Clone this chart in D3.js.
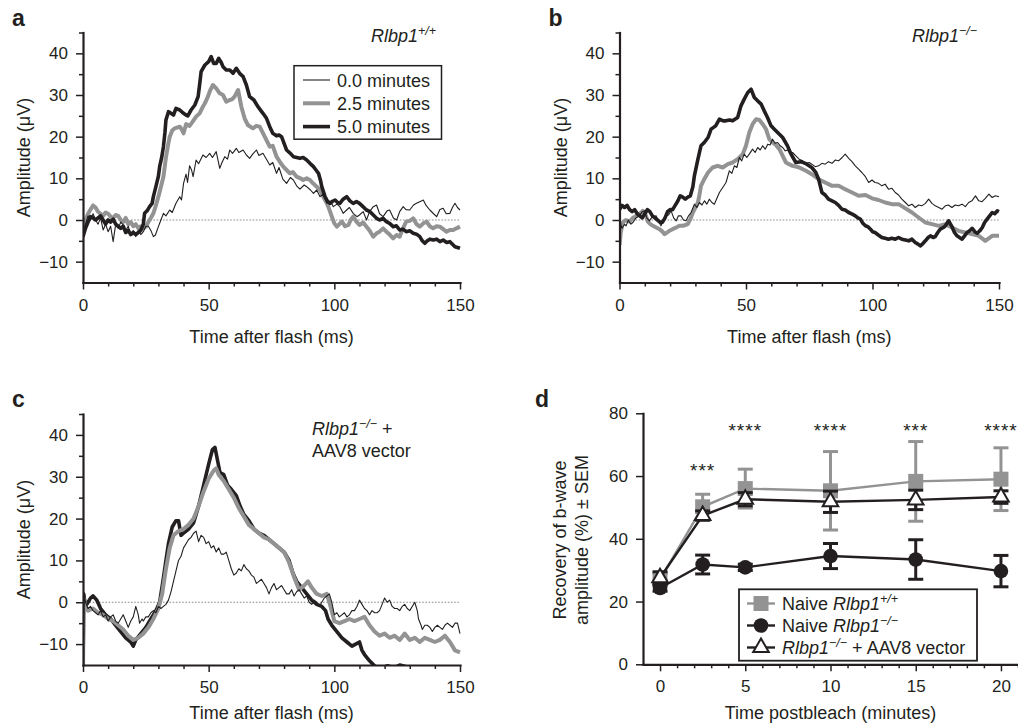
<!DOCTYPE html>
<html>
<head>
<meta charset="utf-8">
<script src="https://cdn.jsdelivr.net/npm/d3@7"></script>
<style>
  body { margin: 0; background: #fff; }
  svg text { font-family: "Liberation Sans", Arial, Helvetica, sans-serif; fill: #231f20; }
</style>
</head>
<body>
<svg id="fig" width="1018" height="727"></svg>
<script>
// ---- ERG traces, [time (ms), amplitude (uV)] ----
// panel a: Rlbp1+/+
const aThin = [[0,-3],[1,-1],[2,1],[3,0],[4,1.5],[5,0],[6,-1],[7,0.5],[8,-2.4],[9,-1],[10,-2.8],[11,-1.5],[12,-5.2],[13,-1],[14,-2],[15,-0.5],[16,-1.2],[17,-2.5],[18,-1.5],[19,-3.5],[20,-2.5],[21,-4],[22,-2.5],[23,-3.5],[24,-2.8],[25,-1.5],[26,-1.5],[27,-2.5],[28,-4],[28.8,-3.6],[30,-1.6],[31,0],[32,1.6],[33,1],[34.5,2.4],[35.5,1.8],[37,4],[38.5,5.6],[39.2,4.8],[40,8.8],[41,11],[41.6,9],[42.4,13],[43.2,12],[43.8,10.4],[45,14.4],[46,13.5],[47.7,15.6],[49,15],[50.4,16],[51.5,15],[53,16.4],[54.4,12.4],[55.3,13.8],[56.4,15.2],[57.5,14.6],[58.4,16.8],[59.5,16],[61,17.2],[62,16.2],[63.7,16.8],[65,15.6],[66.3,14.8],[67.5,15.8],[69,16.8],[70,15.5],[71.6,16],[73,14.6],[74.3,13.2],[75.5,13.8],[77,11.2],[78,12.6],[79.5,9.8],[81,8.8],[82.5,10.2],[83.7,9.6],[85,8.2],[86.3,7.4],[88,8.4],[89,8],[90.5,7.2],[91.7,6.4],[93,7.2],[94.3,5.6],[95.5,6.2],[97,4],[98.5,4.5],[99.6,3.2],[101,3.8],[102.2,3.2],[103.5,1.6],[104.9,2.4],[106,3],[107.5,1.6],[109,0.8],[110,1.2],[111.5,2],[112.8,0],[114,2],[115.5,3.2],[116.8,3.6],[118,1.5],[119.4,0.8],[121,2.2],[122,2.4],[123.5,0.5],[124.8,0],[126,2],[127.4,3.2],[128.5,2.5],[130,2.4],[131.5,3.6],[132.7,4],[134,4.4],[135.4,4.8],[136.5,3.5],[138,2.4],[139.5,1.5],[140.7,0.8],[142,2.5],[143.3,2.8],[144.5,1.5],[146,1.6],[147,3],[148,4],[149,3],[150,2.4]];
const aGray = [[0,-3],[1,0],[2,1.5],[3,2.5],[4,3.5],[5,3],[6,2],[7,1.5],[8,1],[9,1.8],[10,1.5],[11,0.8],[12,0.5],[13,1.2],[14,1],[15,0],[16,-0.5],[17,0.5],[18,-1],[19,-0.5],[20,-1.5],[21,-1],[22,-2],[23,-1.5],[24,-2],[25,-1.6],[26,-0.5],[27,0.5],[28,1.6],[29,3.5],[30,5.6],[31,8],[32,10.4],[33,15],[34,18.5],[34.5,20],[35.5,21.5],[36.5,22],[38.5,22.4],[39.5,21.5],[40,20.8],[41,23],[42.4,22.6],[43.5,23.5],[45,24.8],[46.4,25.6],[47.7,27.2],[48.5,28],[49.7,29.6],[50.5,31],[51.7,32.4],[53,31.6],[54.4,30.4],[55.7,30],[57,28.4],[58.4,28.8],[59.4,29],[60.3,29.6],[61.7,31.2],[63,27.2],[64.3,24.4],[65.6,22.8],[67.6,22],[69,22.6],[70.3,22.4],[72.3,20],[74.3,17.6],[75.5,17.8],[77,15.2],[78.5,13.8],[79.7,12.8],[81,12],[82.3,11.2],[83.5,11.5],[85,10.4],[86.5,10],[87.6,9.6],[89,10],[90.3,9.6],[91.5,8.8],[93,8],[94.3,7.2],[95.6,5.6],[96.6,4.5],[97.6,3.2],[99,0.8],[100,-0.8],[101,-1.6],[102,-1],[103,-0.4],[104.3,-1.5],[105.6,-1.2],[106.5,0],[107.5,0.8],[108.8,-0.4],[110,-1.2],[111.5,-0.6],[112.8,-1.6],[114,-2.5],[115.5,-4],[116.8,-3.2],[118,-2.8],[119.4,-2],[120.7,-2.8],[122,-3.5],[123.4,-4.4],[124.8,-3.6],[126,-4],[127.3,-2],[128.6,-0.4],[130,-0.2],[131.4,0.4],[132.7,-1],[134,-1.6],[135.4,-0.8],[136.7,-0.4],[138,-1.5],[139.3,-2],[140.7,-1.5],[142,-1.6],[143.3,-2.2],[144.6,-2.8],[146,-2.4],[147.3,-2.4],[148.6,-2],[150,-1.6]];
const aBlack = [[0,-4],[1,-2],[2,-0.5],[3,0.8],[4,0.5],[5,0],[6,0.5],[7,1],[8,0],[9,-1],[10,0],[11,-0.5],[12,0.2],[13,-1],[14,-1.5],[15,-2],[16,-1.5],[17,-3],[18,-2.5],[19,-3.5],[20,-3],[21,-3.5],[22,-3],[23,-2.5],[24,-1],[24.5,1.6],[25.5,2.2],[26.5,3.2],[27.5,4],[28,5.6],[29,8],[30,10.5],[30.5,12.8],[31.3,15],[32,17.6],[32.6,21],[33,24],[34,26],[35,25.6],[36,25.2],[37,26.8],[38.5,26.4],[40,25.6],[41,25.2],[41.7,25],[43,26.4],[44.5,27.6],[45.8,29.6],[46.5,33],[47,35.6],[48.5,37.2],[50,38],[51,39.2],[52,37.6],[53,37.6],[54,38.8],[55,37.8],[55.7,36.8],[57,36],[58.4,36],[59.7,35.2],[61,36.4],[62.3,35.2],[63.7,34.4],[65,32.4],[66.3,29.6],[68,28.8],[69.6,27.2],[71.6,25.6],[73,24.4],[74.3,22.4],[75.5,20.8],[77,20.2],[78,20.4],[79,20],[80,18.4],[81,16.8],[82.5,16],[83.7,15.2],[85,15],[86.3,14.8],[87.6,15],[89,14.4],[90.3,13.6],[91.7,12.8],[92.7,12],[93.7,11.2],[94.5,9.5],[95,8],[96.3,5.6],[97.3,4.5],[98.3,4],[99.3,4.5],[100.3,4.8],[101.3,4.2],[102.2,4],[103.5,5],[104.9,5.6],[106.2,4.6],[107.5,4],[108.8,4.4],[110,4],[111.4,3.2],[112.8,2.4],[114.2,2],[115.5,1.2],[116.8,0.4],[118,0],[119.4,0.4],[120.7,-0.4],[122,-0.8],[123.4,-1.6],[124.7,-1.4],[126,-2.4],[127.3,-2.2],[128.6,-2.8],[130,-2.6],[131.4,-3.2],[132.7,-3.4],[134,-4],[135,-5],[136,-5.6],[137,-5],[138,-4.6],[139.4,-4.8],[140.7,-4.6],[142,-5.2],[143.3,-4.8],[144.7,-5.4],[146,-5.2],[147,-5.8],[148,-6.4],[149,-6.6],[150,-6.8]];

// panel b: Rlbp1-/-
const bThin = [[0,2],[0.5,-1],[1,-2],[2,-1],[2.6,-1.4],[3.5,0],[4.5,-1],[5.3,-0.6],[6.5,0.5],[7.9,1],[9,2],[9.9,2.2],[10.8,0.5],[11.8,-0.2],[13,0.8],[14.5,1],[15.5,-0.5],[16.4,-1.4],[17.4,0],[18.4,1],[19.4,1.2],[20.4,2.2],[21.4,0.5],[22.4,-0.2],[23.3,1],[24.3,1],[25.3,0],[26.3,-0.2],[27.3,1],[28.3,1.8],[29.6,3.8],[30.6,3],[31.6,4.2],[32.6,3.6],[33.6,4.6],[34.5,3.8],[35.5,5],[36.5,4.2],[37.5,3.8],[38.5,5.2],[39.5,6.6],[40.8,7.8],[42.1,9],[43.4,11.8],[44.4,11.2],[45.4,13],[46.4,12.6],[47.4,15],[48.3,14.2],[49.3,15.8],[50.3,15],[51.3,15.8],[52.6,17],[53.6,16.2],[54.6,17.4],[55.6,16.8],[56.6,17.8],[57.6,17],[58.6,18.2],[59.5,18],[60.5,19.4],[61.5,18.4],[62.5,18.6],[63.5,17.8],[64.5,17.4],[65.5,16.6],[66.4,16.8],[67.4,16],[68.4,16.2],[69.7,15.4],[71,14.6],[72.4,14.2],[73.7,13.6],[75,13.8],[76,13.4],[77.4,12.8],[78.7,13],[80,13.6],[81.3,13.4],[82.6,14],[84,13.6],[85.3,14.4],[86.6,14.2],[88,15],[89.2,15.8],[90.6,14.8],[91.9,14],[93.2,13],[94.5,12.2],[95.8,11.4],[97.2,10.4],[98.5,9],[99.8,9.6],[101,9],[102.4,8.8],[103.7,8.2],[105,8.6],[106.3,7.4],[107.7,7.6],[109,6.6],[110.3,6],[111.6,5],[113,4.2],[114.3,3.4],[115.6,3.8],[116.9,3],[118.2,3.6],[119.5,3.4],[120.9,4],[122.2,5],[123.5,4],[124.8,3.4],[126.2,3],[127.5,2.6],[128.8,3.4],[130,3.6],[131.4,3],[132.7,3.6],[134,3.4],[135.4,3.8],[136.7,3.2],[138,4.2],[139.3,4.6],[140.7,5.8],[142,4.6],[143.3,4.4],[144.6,5.2],[146,6.2],[147.3,5.4],[148.6,5.8],[150,5.6]];
const bGray = [[0,-6],[0.5,-3],[1.3,-0.6],[2.5,0],[4,-0.4],[5.3,0.5],[6.6,1],[8,1.5],[9.2,2.2],[10.2,1.5],[11.2,-0.4],[12.2,-1],[13.2,-1.4],[14.5,-1.8],[15.8,-2.2],[17,-2.8],[17.8,-3.4],[18.8,-3],[19.7,-2.6],[21,-2.2],[22.4,-1.8],[23.7,-1.4],[25,-1.4],[26,-1.2],[27,-1],[28,0.2],[29,1.8],[30,3],[31,4.2],[31.6,6],[32.2,8.2],[33.5,9.8],[35,11.4],[36.8,12.6],[38.8,13],[40.8,12.6],[42.8,13.4],[44.7,13.8],[46.7,14.6],[48.7,15.8],[50,17.8],[51.3,21],[52.6,23],[54,24.2],[55.3,24],[56.6,23],[57.9,21.8],[59.2,19.4],[60.5,18.6],[61.8,18],[63.2,17],[64.5,15.4],[65.8,13.8],[67,13.4],[68.4,13],[70,12.8],[71,12.6],[72.4,12.2],[73.7,11.8],[76,11],[78.7,9.8],[81.3,9],[84,8.2],[86.6,8.2],[89.2,7.4],[91.9,6.6],[94.5,5.8],[97.2,6],[99.8,5.2],[102.4,4.8],[105,4.2],[107.7,3.8],[110.3,3.8],[113,2.8],[115.6,1.8],[118.2,0.6],[120.9,-0.6],[123.5,-1],[126.2,-1.4],[128.8,-1],[131.4,-1.8],[134,-2.6],[136.7,-3],[139.3,-3.4],[142,-3.8],[144.6,-5],[147.3,-3.8],[150,-3.8]];
const bBlack = [[0,2.5],[1,3.5],[2,3],[3,3.5],[4,2.5],[5,2],[6,2.5],[7,1.5],[8,1],[9,0.5],[10,1.5],[11,2.5],[12,2],[13,1],[14,0.5],[15,0],[16,-0.5],[17,-0.5],[18,0.5],[19,2],[20,2.5],[21,2.5],[22,3.5],[23,4.5],[24,5.8],[25,5.5],[26,5],[27,5.5],[28,5.8],[29,8],[29.6,10.6],[31,14.6],[32.2,17.8],[33.5,18.6],[35,19.8],[36.2,21.8],[38,22.6],[39.5,24.2],[41,23.8],[42,23.8],[43.5,24],[44.7,23.8],[46.7,24.6],[48,27.4],[49.3,29],[50.7,30.6],[52,31.4],[53.3,29.4],[54.6,28.6],[56,27.8],[57.2,26.2],[58.5,24.6],[59.9,22.6],[61.2,21.8],[63.2,20.6],[64.5,19.8],[66.4,17.8],[67.8,15.8],[69.7,13.8],[71.7,14],[73.4,13.6],[76,12.6],[77.5,11.5],[78.7,9.8],[80,6.6],[81.3,6],[82.6,5],[84,4.6],[85.3,4.2],[86.6,3.5],[87.9,2.6],[89.2,2.4],[90.6,1.8],[92,1.4],[93.2,1],[94.2,0.5],[95.2,0.2],[96.2,-0.8],[97.2,-1.4],[98.2,-1.6],[99.2,-2.2],[100,-2.8],[101,-3],[102.3,-3.6],[103.7,-4.2],[105,-4.4],[106.3,-4.6],[107.6,-4.4],[109,-4.6],[110.3,-4.2],[111.6,-4.6],[113,-4.8],[114.3,-5],[115.6,-4.6],[116.9,-5.4],[118,-5.8],[118.9,-6.2],[120,-5.6],[120.9,-5],[122,-4.2],[122.9,-3.8],[124,-4.2],[124.8,-4],[125.8,-3],[126.8,-2.2],[128,-1.8],[128.8,-1.4],[130.1,-0.2],[131.4,-1.6],[132.4,-3],[133.4,-3.8],[134.4,-4.2],[135.4,-4.6],[136.4,-3.8],[137.4,-3],[138.4,-2.6],[139.4,-2],[140.4,-2.8],[141.4,-3.2],[142.4,-2.6],[143.4,-1.8],[144.3,-0.6],[145.3,0.2],[146.3,1],[147.3,1.8],[148.3,1.5],[149.3,2.2],[150,2]];

// panel c: Rlbp1-/- + AAV8 vector
const cThin = [[0,-16],[0.5,2],[1,0],[2,-1.5],[3,-1],[4,-2],[5,-2.5],[6,-3],[7,-2],[8,-3.5],[9,-3],[10,-4.5],[11,-3.5],[12,-3],[13,-4.5],[14,-5],[15,-4],[16,-3],[17,-4.5],[18,-6],[19,-4.5],[20,-3.5],[21,-1],[22,-3],[22.5,-5],[23.5,-4],[24,-4.5],[25,-3.5],[26,-3.5],[27,-2.5],[28,-2],[29,-2.5],[30,-1],[31,-1.5],[32,-1],[33,-0.5],[34,0.5],[35,2.5],[36,5],[37,7.5],[38,10],[39,11],[40,13],[41,14],[42,15],[43,15.5],[44,16.5],[45,17],[46,14.5],[47,16],[48,15.5],[49,14],[50,14.5],[51,13],[52,13.5],[53,12],[54,13],[55,11.5],[56,11.5],[57,12],[58,10],[59,8],[60,6.5],[61,7],[62,8],[63,7.5],[64,9],[65,8],[66,7.5],[67,6.5],[68,6],[69,4.5],[70,5],[71,5.5],[72,4.5],[73,3.5],[74,2],[75,3.5],[76,4.5],[77,3],[78,3.5],[79,4],[80,3],[81,2],[82,2],[83,3],[84,1.5],[85,2.5],[86,3],[87,2],[88,1],[89,1.5],[90,0],[91,-0.5],[92,0.5],[93,0],[94,-1],[95,0],[96,1],[97,1.5],[98,2],[99,0],[100,-3],[101,-2.5],[102,-3.5],[103,-3],[104,-2.5],[105,-3.5],[106,-3],[107,-2],[108,-2],[109,-1],[110,0.5],[111,-0.5],[112,-1.5],[113,-2],[114,-3],[115,-2],[116,-2.5],[117,-2.5],[118,-2],[119,-0.5],[120,1],[121,0],[122,0.5],[123,-1],[124,-1.5],[125,-1.5],[126,-2],[127,-1],[128,-0.5],[129,-1.5],[130,-2],[131,-1],[132,0],[133,-2],[133.5,-4],[134.5,-5.5],[135,-6.5],[136,-5.5],[137,-5.5],[138,-6],[139,-7],[140,-6],[141,-5.5],[142,-6],[143,-6.5],[144,-5.5],[145,-5],[146,-5.5],[147,-6],[148,-5],[149,-5],[150,-7.5]];
const cGray = [[0,-16],[0.3,1],[1,-1],[2,-2],[4,-1.5],[6,-2.5],[8,-3],[10,-4],[12,-4.5],[14,-5.5],[16,-6.5],[18,-8],[20,-9],[22,-8.5],[24,-7.5],[26,-6],[28,-4],[30,-1.5],[31.5,2],[33,8],[34.5,13],[36,16],[38,17],[40,17.5],[42,18.5],[44,20],[46,23],[48,26.5],[50,29.5],[52,31.5],[53,32],[54,30.5],[56,29],[58,27],[60,25],[62,22.5],[64,20.5],[66,18.5],[68,17.5],[70,16.5],[72,15.5],[74,15],[76,14],[78,13],[80,12],[82,9.5],[84,6],[86,3],[88,4],[89.5,5],[91,3.5],[93,2],[95,1.5],[97,2],[98.5,-1],[100,-4.5],[102,-5],[104,-4.5],[106,-4],[108,-4.5],[110,-4],[112,-3.5],[114,-5.5],[116,-7],[118,-8],[120,-7.5],[122,-8.5],[124,-8],[126,-9],[128,-7.5],[130,-9],[132,-8.5],[134,-9.5],[136,-8.5],[138,-9],[140,-9.5],[142,-9],[144,-8],[146,-9.5],[148,-11.5],[150,-12]];
const cBlack = [[0,-16],[0.3,2],[1,-1],[2,0],[3,1],[4,1.5],[5.5,0.5],[7,-1.5],[9,-3],[11,-4],[13,-5.5],[15,-7],[17,-8.5],[19,-9.5],[20,-10.5],[21,-9],[23,-7.5],[25,-6],[27,-4],[29,-2],[30.5,0],[31.8,5],[33,10],[34,14],[35.5,18],[37,19.5],[38,19.5],[39,16],[40,16.5],[42,17.5],[44,19],[46,23],[48,28],[50,33],[51.5,36.5],[52.5,37],[53.5,34],[54.5,31],[56,30.5],[57.5,28],[59,27],[61,25.5],[62.5,23],[64,21],[66,19.5],[68,17.5],[70,16.5],[72,16],[74,15],[76,14],[78,13],[80,12],[82,10],[83.5,7],[85,5],[87,3.5],[89,2],[91,0.5],[93,-0.5],[95,-1],[96.5,-2],[97.5,-4],[99,-5.5],[101,-7],[103,-8.5],[105,-9.5],[107,-10.5],[108.5,-10],[110,-9.5],[111,-11.5],[112,-12.5],[114,-14],[116,-15.2],[118,-16],[121,-15.2],[124,-15.6],[126,-15],[128,-15.3],[130,-16],[133,-18],[140,-20],[150,-21]];

// ---- panel d: recovery of b-wave amplitude (%) ----
const recoveryTimes = [0, 2.5, 5, 10, 15, 20];
const wtMean  = [27, 50.2, 56, 55.3, 58.3, 59];
const wtSem   = [2, 4, 6.2, 12.5, 12.7, 10];
const koMean  = [24.3, 31.8, 30.9, 34.5, 33.4, 29.7];
const koSem   = [1, 3, 1, 4, 6.3, 5];
const aavMean = [27.6, 47.4, 52.6, 51.8, 52.4, 53.3];
const aavSem  = [1.9, 1.5, 2.1, 3.4, 3.1, 2];
const sigLabels = ["", "***", "****", "****", "***", "****"];

const INK = "#231f20", GREY = "#939393";
const svg = d3.select("#fig");

// text with italic / superscript runs
function richText(g, x, y, parts, anchor) {
    const t = g.append("text")
        .attr("x", x).attr("y", y)
        .attr("text-anchor", anchor || "start")
        .style("font-size", "18px");
    let shift = 0;
    parts.forEach(p => {
        const s = t.append("tspan").text(p.t);
        if (p.i) s.style("font-style", "italic");
        const target = p.sup ? -7 : 0;
        if (target !== shift) { s.attr("dy", target - shift); shift = target; }
        if (p.sup) s.style("font-size", "12.5px");
    });
    return t;
}

function styleAxis(a) {
    a.attr("font-family", null).attr("font-size", null);
    a.select(".domain").attr("stroke", INK).attr("stroke-width", 2.2).attr("stroke-linecap", "square");
    a.selectAll(".tick line").attr("stroke", INK).attr("stroke-width", 1.5);
    a.selectAll(".tick text").style("font-size", "17px");
}

function drawAxes(g, x, y, o) {
    const yb = y.range()[0], xl = x.range()[0];
    g.append("g").attr("transform", "translate(0," + yb + ")")
        .call(d3.axisBottom(x).tickValues(o.xMinor).tickSize(4).tickFormat(""))
        .call(a => { styleAxis(a); a.select(".domain").remove(); });
    g.append("g").attr("transform", "translate(" + xl + ",0)")
        .call(d3.axisLeft(y).tickValues(o.yMinor).tickSize(4).tickFormat(""))
        .call(a => { styleAxis(a); a.select(".domain").remove(); });
    g.append("g").attr("transform", "translate(0," + yb + ")")
        .call(d3.axisBottom(x).tickValues(o.xMajor).tickSize(7).tickPadding(9).tickSizeOuter(0))
        .call(styleAxis);
    g.append("g").attr("transform", "translate(" + xl + ",0)")
        .call(d3.axisLeft(y).tickValues(o.yMajor).tickSize(7).tickPadding(8).tickSizeOuter(0))
        .call(styleAxis);
}

function tracePanel(o) {
    const x = d3.scaleLinear().domain([0, 150]).range([o.x0, o.x1]);
    const y = d3.scaleLinear().domain([-15, 45]).range([o.y1, o.y0]);
    const g = svg.append("g").classed("panel-" + o.id, true);

    g.append("clipPath").attr("id", "clip-" + o.id)
        .append("rect")
        .attr("x", o.x0).attr("y", o.y0 - 10)
        .attr("width", o.x1 - o.x0 + 4).attr("height", o.y1 - o.y0 + 10);

    g.append("line")
        .attr("x1", x(0)).attr("x2", x(150))
        .attr("y1", y(0)).attr("y2", y(0))
        .attr("stroke", "#6d6d6d").attr("stroke-width", 0.8)
        .attr("stroke-dasharray", "1.6,1.6");

    const line = d3.line().x(d => x(d[0])).y(d => y(d[1]));
    const traces = g.append("g").attr("clip-path", "url(#clip-" + o.id + ")");
    o.traces.forEach(tr => {
        traces.append("path")
            .datum(tr.data)
            .attr("d", line)
            .attr("fill", "none")
            .attr("stroke", tr.color)
            .attr("stroke-width", tr.width)
            .attr("stroke-linejoin", "round");
    });

    drawAxes(g, x, y, {
        xMajor: [0, 50, 100, 150],
        xMinor: d3.range(10, 150, 10).filter(v => v % 50),
        yMajor: [-10, 0, 10, 20, 30, 40],
        yMinor: [-5, 5, 15, 25, 35, 45]
    });

    g.append("text")
        .attr("x", (o.x0 + o.x1) / 2).attr("y", Math.min(o.y1 + 60, 719))
        .attr("text-anchor", "middle").style("font-size", "18px")
        .text("Time after flash (ms)");
    g.append("text")
        .attr("transform", "translate(" + (o.x0 - 53) + "," + ((o.y0 + o.y1) / 2) + ") rotate(-90)")
        .attr("text-anchor", "middle").style("font-size", "18px")
        .text("Amplitude (\u03bcV)");
    g.append("text")
        .attr("x", o.x0 - 71).attr("y", o.y0 - 7)
        .style("font-size", "23px").style("font-weight", "bold")
        .text(o.id);
    return g;
}

const thin  = d => ({ data: d, color: INK, width: 1.1 });
const grey  = d => ({ data: d, color: GREY, width: 4 });
const thick = d => ({ data: d, color: INK, width: 3.6 });

// panel a
const gA = tracePanel({ id: "a", x0: 83, x1: 460, y0: 32.5, y1: 282.5,
    traces: [grey(aGray), thick(aBlack), thin(aThin)] });
richText(gA, 436, 42, [{ t: "Rlbp1", i: true }, { t: "+/+", i: true, sup: true }], "end");

// legend a
const legA = gA.append("g");
legA.append("rect")
    .attr("x", 294).attr("y", 65.7).attr("width", 147.5).attr("height", 73.5)
    .attr("fill", "#fff").attr("stroke", INK).attr("stroke-width", 1.5);
[["0.0 minutes", thin()], ["2.5 minutes", grey()], ["5.0 minutes", thick()]].forEach((e, i) => {
    const yc = 80 + i * 23.3;
    legA.append("line").attr("x1", 303).attr("x2", 330).attr("y1", yc).attr("y2", yc)
        .attr("stroke", e[1].color).attr("stroke-width", e[1].width);
    legA.append("text").attr("x", 337).attr("y", yc + 6.5).style("font-size", "18px").text(e[0]);
});

// panel b
const gB = tracePanel({ id: "b", x0: 619.5, x1: 999, y0: 32.5, y1: 282.5,
    traces: [grey(bGray), thick(bBlack), thin(bThin)] });
richText(gB, 977, 42, [{ t: "Rlbp1", i: true }, { t: "\u2212/\u2212", i: true, sup: true }], "end");

// panel c
const gC = tracePanel({ id: "c", x0: 83, x1: 460, y0: 414, y1: 665,
    traces: [thick(cBlack), grey(cGray), thin(cThin)] });
richText(gC, 312, 435, [{ t: "Rlbp1", i: true }, { t: "\u2212/\u2212", i: true, sup: true }, { t: " +" }]);
richText(gC, 312, 457, [{ t: "AAV8 vector" }]);

// panel d
(function () {
    const x = d3.scaleLinear().domain([-1, 21]).range([643, 1018]);
    const y = d3.scaleLinear().domain([0, 80]).range([664.3, 413.3]);
    const g = svg.append("g").classed("panel-d", true);

    drawAxes(g, x, y, {
        xMajor: [0, 5, 10, 15, 20],
        xMinor: d3.range(1, 22).filter(v => v % 5),
        yMajor: [0, 20, 40, 60, 80],
        yMinor: []
    });

    const series = [
        { mean: wtMean, sem: wtSem, color: GREY, sym: d3.symbolSquare, size: 225, fill: GREY, stroke: "none" },
        { mean: koMean, sem: koSem, color: INK, sym: d3.symbolCircle, size: 168, fill: INK, stroke: "none" },
        { mean: aavMean, sem: aavSem, color: INK, sym: d3.symbolTriangle, size: 105, fill: "#fff", stroke: INK }
    ];
    const line = d3.line().x(d => x(d.t)).y(d => y(d.v));

    series.forEach(s => {
        const pts = recoveryTimes.map((t, i) => ({ t: t, v: s.mean[i], e: s.sem[i] }));
        const eb = g.append("g");
        pts.forEach(p => {
            const cx = x(p.t), hi = y(p.v + p.e), lo = y(p.v - p.e);
            eb.append("line").attr("x1", cx).attr("x2", cx).attr("y1", hi).attr("y2", lo)
                .attr("stroke", s.color).attr("stroke-width", 3);
            [hi, lo].forEach(yy => eb.append("line")
                .attr("x1", cx - 7.5).attr("x2", cx + 7.5).attr("y1", yy).attr("y2", yy)
                .attr("stroke", s.color).attr("stroke-width", 3));
        });
        g.append("path").datum(pts).attr("d", line)
            .attr("fill", "none").attr("stroke", s.color).attr("stroke-width", 2.4);
        g.selectAll(null).data(pts).enter().append("path")
            .attr("transform", p => "translate(" + x(p.t) + "," + y(p.v) + ")")
            .attr("d", d3.symbol(s.sym, s.size))
            .attr("fill", s.fill).attr("stroke", s.stroke).attr("stroke-width", 2);
    });

    // significance stars
    g.selectAll(null).data(recoveryTimes).enter().append("text")
        .attr("x", t => x(t))
        .attr("y", t => y(t < 4 ? 63 : 75.5) + 10)
        .attr("text-anchor", "middle")
        .style("font-size", "19px").style("letter-spacing", "1px")
        .text((t, i) => sigLabels[i]);

    // legend d
    const leg = g.append("g");
    leg.append("rect")
        .attr("x", 739).attr("y", 589.3).attr("width", 238).attr("height", 71.4)
        .attr("fill", "#fff").attr("stroke", INK).attr("stroke-width", 1.8);
    const labels = [
        [{ t: "Naive " }, { t: "Rlbp1", i: true }, { t: "+/+", i: true, sup: true }],
        [{ t: "Naive " }, { t: "Rlbp1", i: true }, { t: "\u2212/\u2212", i: true, sup: true }],
        [{ t: "Rlbp1", i: true }, { t: "\u2212/\u2212", i: true, sup: true }, { t: " + AAV8 vector" }]
    ];
    series.forEach((s, i) => {
        const yc = 603.5 + i * 22;
        leg.append("line").attr("x1", 747).attr("x2", 775).attr("y1", yc).attr("y2", yc)
            .attr("stroke", s.color).attr("stroke-width", 2.4);
        leg.append("path").attr("transform", "translate(761," + yc + ")")
            .attr("d", d3.symbol(s.sym, s.size))
            .attr("fill", s.fill).attr("stroke", s.stroke).attr("stroke-width", 2);
        richText(leg, 782, yc + 6.5, labels[i]);
    });

    g.append("text")
        .attr("x", x(10)).attr("y", 719)
        .attr("text-anchor", "middle").style("font-size", "18px")
        .text("Time postbleach (minutes)");
    g.append("text")
        .attr("transform", "translate(566,540) rotate(-90)")
        .attr("text-anchor", "middle").style("font-size", "18px")
        .text("Recovery of b-wave");
    g.append("text")
        .attr("transform", "translate(588,540) rotate(-90)")
        .attr("text-anchor", "middle").style("font-size", "18px")
        .text("amplitude (%) \u00b1 SEM");
    g.append("text")
        .attr("x", 535).attr("y", 407)
        .style("font-size", "23px").style("font-weight", "bold")
        .text("d");
})();
</script>
</body>
</html>
